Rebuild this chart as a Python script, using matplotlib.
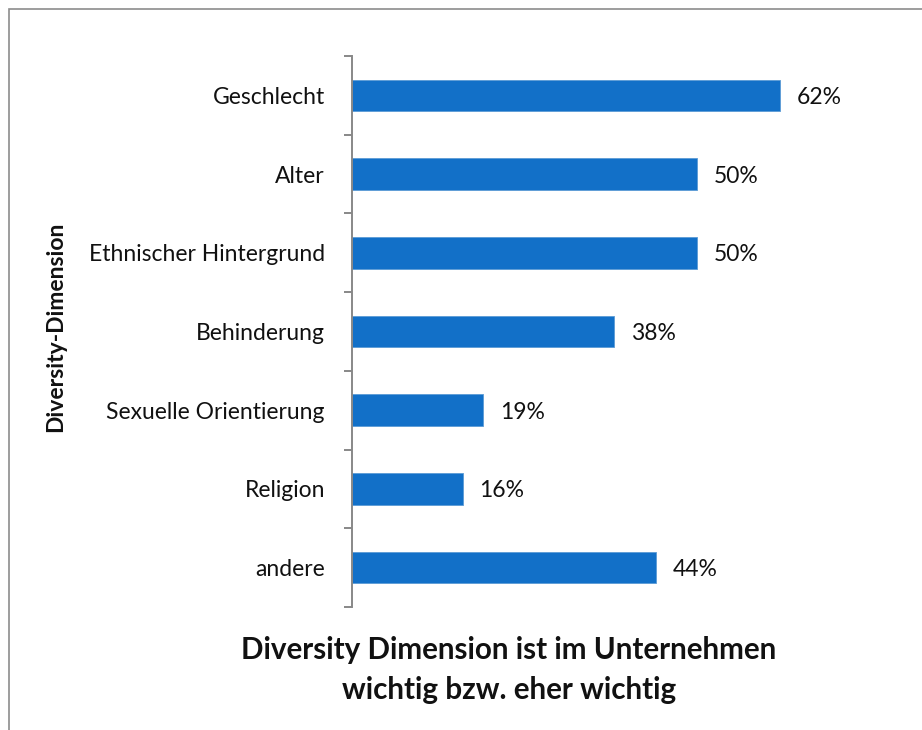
import matplotlib
matplotlib.use("Agg")
import matplotlib.pyplot as plt
from matplotlib.patches import Rectangle
import numpy as np

categories = ["Geschlecht", "Alter", "Ethnischer Hintergrund", "Behinderung",
              "Sexuelle Orientierung", "Religion", "andere"]
values = [62, 50, 50, 38, 19, 16, 44]
value_labels = ["62%", "50%", "50%", "38%", "19%", "16%", "44%"]
ylabel = "Diversity-Dimension"
title_lines = ["Diversity Dimension ist im Unternehmen", "wichtig bzw. eher wichtig"]

plt.rcParams['font.family'] = ['Lato', 'DejaVu Sans']

W, H = 922, 730
fig = plt.figure(figsize=(W / 100, H / 100), dpi=100)
fig.patch.set_facecolor("white")

# outer border
fig.add_artist(Rectangle((9 / W, -0.01), 1.02, (H - 9) / H + 0.01, transform=fig.transFigure,
                         fill=False, edgecolor="#8c8c8c", linewidth=1.2))

left, right = 352, 870
top, bottom = 56, 607
ax = fig.add_axes([left / W, 1 - bottom / H, (right - left) / W, (bottom - top) / H])

n = len(categories)
ypos = list(range(n))
ax.barh(ypos, values, height=0.4, color="#1270C8", edgecolor="#5b9bd5", linewidth=0.6)
ax.set_ylim(n - 0.5, -0.5)
ax.set_xlim(0, 75)

for y, v, lab in zip(ypos, values, value_labels):
    ax.text(v + 2.4, y, lab, va="center_baseline", ha="left", fontsize=16.5, color="#111111")

ax.set_yticks(ypos)
ax.set_yticklabels(categories, fontsize=16.5, color="#111111")
ax.tick_params(axis="y", length=0, pad=19.5)
bounds = np.arange(-0.5, n, 1.0)
ax.set_yticks(bounds, minor=True)
ax.tick_params(axis="y", which="minor", length=5.5, width=1.4, color="#888888", direction="out")
ax.set_xticks([])
for s in ["top", "right", "bottom"]:
    ax.spines[s].set_visible(False)
ax.spines["left"].set_color("#888888")
ax.spines["left"].set_linewidth(1.4)

fig.text(56 / W, 1 - 327 / H, ylabel, rotation=90, ha="center", va="center",
         fontsize=16.5, fontweight="bold", color="#111111")
fig.text(509 / W, 1 - 648 / H, title_lines[0], ha="center", va="center_baseline",
         fontsize=21.3, fontweight="bold", color="#111111")
fig.text(509 / W, 1 - 688 / H, title_lines[1], ha="center", va="center_baseline",
         fontsize=21.3, fontweight="bold", color="#111111")

fig.savefig("out.png", dpi=100, facecolor="white")
